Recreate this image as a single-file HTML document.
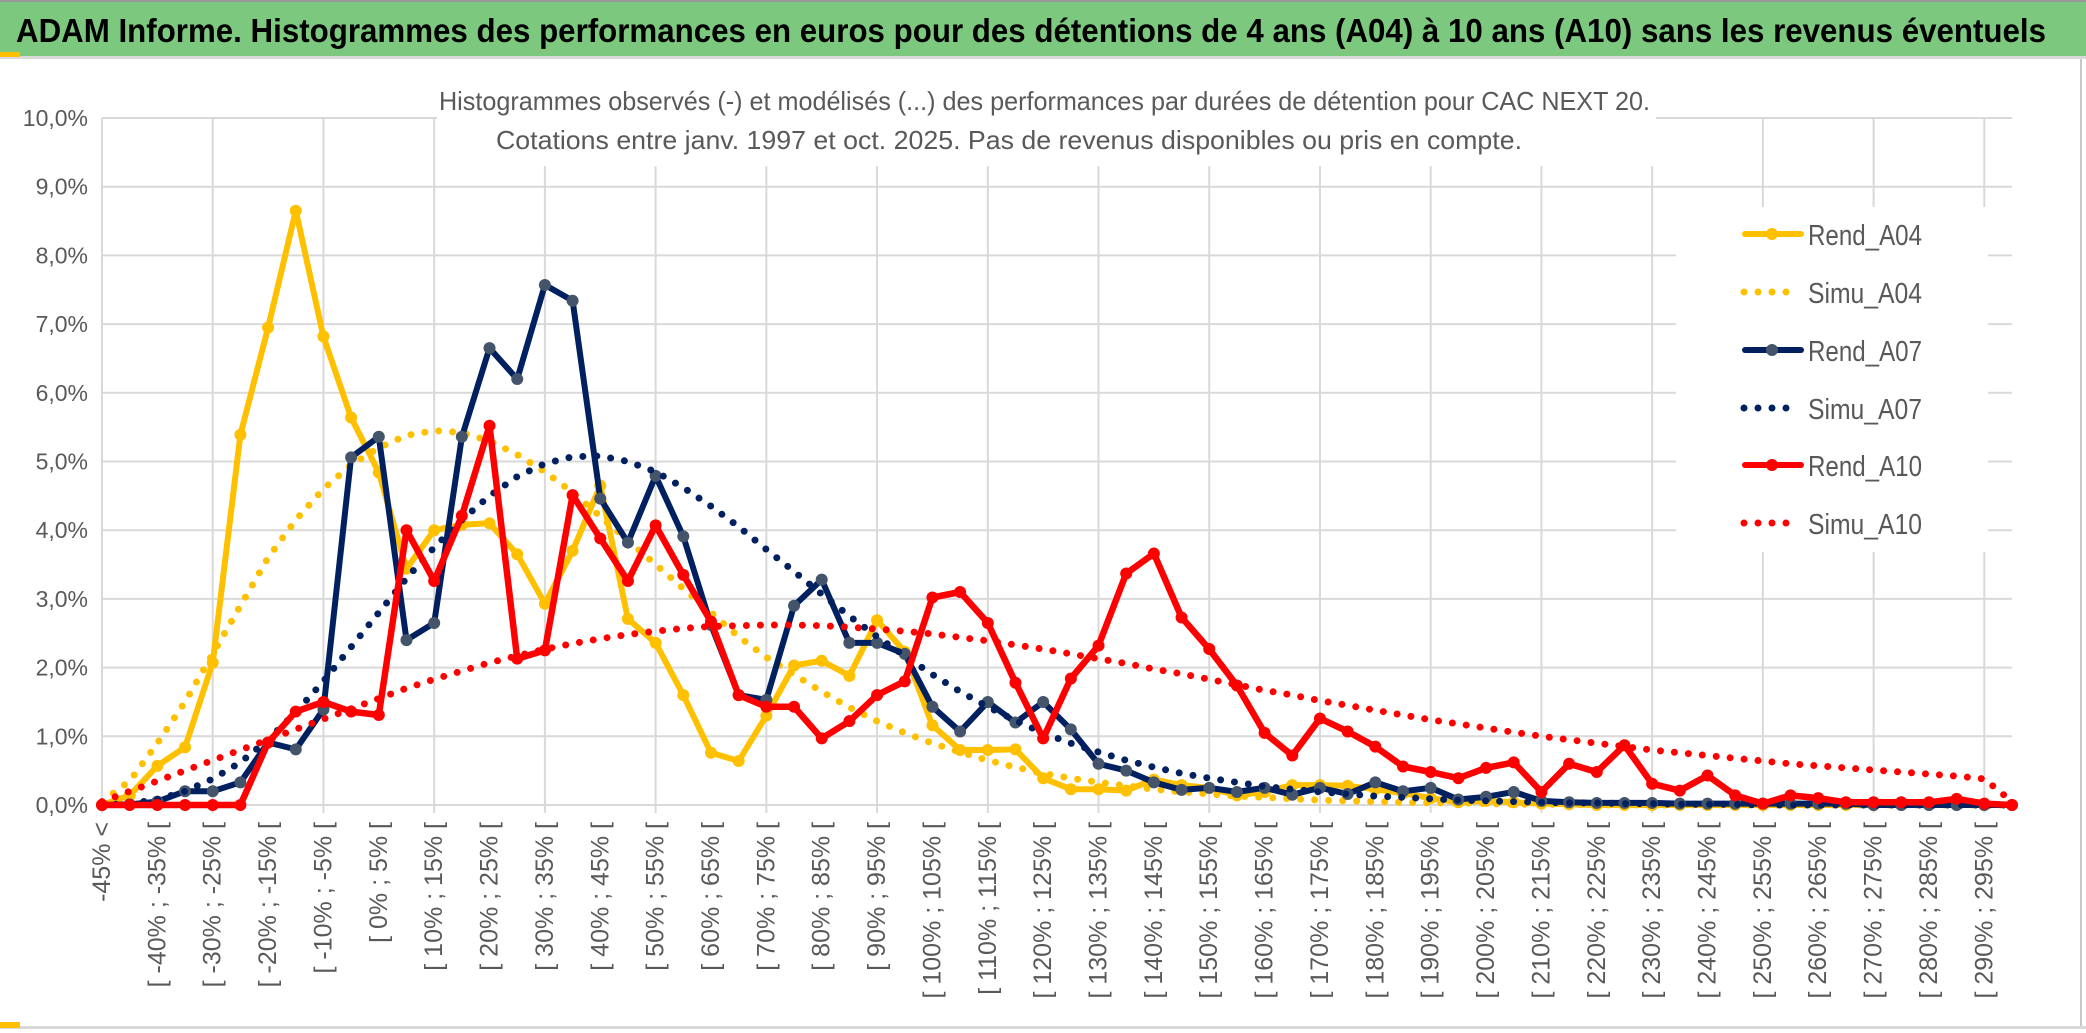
<!DOCTYPE html>
<html><head><meta charset="utf-8"><style>
html,body{margin:0;padding:0;background:#fff;}
svg{display:block;font-family:"Liberation Sans",sans-serif;}
</style></head><body>
<svg id="chart" width="2086" height="1033" viewBox="0 0 2086 1033" xmlns="http://www.w3.org/2000/svg">
<rect x="0" y="0" width="2086" height="1033" fill="#fff"/>
<rect x="0" y="0" width="2086" height="56" fill="#7dc87f"/>
<rect x="0" y="0" width="2086" height="2" fill="#999"/>
<rect x="0" y="56" width="2086" height="3" fill="#d9d9d9"/>
<rect x="0" y="52" width="20" height="5" fill="#ffc000"/>
<text x="16" y="42" font-size="33" font-weight="bold" fill="#000" textLength="2030" lengthAdjust="spacingAndGlyphs">ADAM Informe. Histogrammes des performances en euros pour des détentions de 4 ans (A04) à 10 ans (A10) sans les revenus éventuels</text>
<rect x="2080" y="59" width="2" height="968" fill="#c8c8c8"/>
<rect x="0" y="1026" width="2086" height="3" fill="#d9d9d9"/>
<rect x="0" y="1022" width="20" height="6" fill="#ffc000"/>
<g id="grid"></g>
<rect x="437" y="62" width="1219" height="104" fill="#fff"/>
<text x="439" y="110" font-size="26" fill="#595959" textLength="1211" lengthAdjust="spacingAndGlyphs">Histogrammes observés (-) et modélisés (...) des performances par durées de détention pour CAC NEXT 20.</text>
<text x="496" y="149" font-size="26" fill="#595959" textLength="1026" lengthAdjust="spacingAndGlyphs">Cotations entre janv. 1997 et oct. 2025. Pas de revenus disponibles ou pris en compte.</text>
<rect x="1676" y="207" width="312" height="345" fill="#fff"/>
<g id="axes"></g>
<g id="series"></g>
<g id="legend"></g>
</svg>
<script>
const categories = ["-45% <"];
for (let k = -45; k < 300; k += 5) categories.push("[ " + k + "% ; " + (k + 5) + "% [");
const yTicks = [0,1,2,3,4,5,6,7,8,9,10];
const yTickLabels = ["0,0%","1,0%","2,0%","3,0%","4,0%","5,0%","6,0%","7,0%","8,0%","9,0%","10,0%"];
const rendA04 = [0,0.14,0.57,0.84,2.07,5.39,6.95,8.65,6.82,5.64,4.84,3.44,4.0,4.08,4.1,3.65,2.93,3.7,4.65,2.71,2.36,1.6,0.76,0.64,1.3,2.03,2.1,1.88,2.69,2.23,1.16,0.8,0.8,0.81,0.39,0.23,0.23,0.21,0.37,0.29,0.25,0.14,0.19,0.29,0.29,0.28,0.23,0.17,0.1,0.04,0.06,0.04,0.02,0.01,0,0,0,0,0,0,0,0,0,0,0,0,0,0,0,0];
const simuA04 = [0.05,0.35,0.9,1.5,2.2,2.9,3.6,4.15,4.6,4.95,5.2,5.38,5.45,5.42,5.3,5.1,4.85,4.55,4.2,3.85,3.5,3.15,2.8,2.45,2.15,1.9,1.65,1.42,1.22,1.05,0.9,0.77,0.65,0.55,0.46,0.39,0.33,0.28,0.23,0.19,0.16,0.13,0.11,0.09,0.07,0.06,0.05,0.04,0.03,0.03,0.02,0.01,0.01,0.01,0,0,0,0,0,0,0,0,0,0,0,0,0,0,0,0];
const rendA07 = [0,0.01,0.05,0.2,0.2,0.33,0.91,0.81,1.39,5.06,5.36,2.4,2.65,5.36,6.65,6.2,7.57,7.34,4.46,3.82,4.79,3.91,2.62,1.6,1.53,2.9,3.28,2.36,2.36,2.2,1.43,1.07,1.5,1.2,1.5,1.1,0.6,0.5,0.33,0.22,0.25,0.19,0.25,0.15,0.25,0.16,0.33,0.2,0.25,0.08,0.12,0.19,0.06,0.04,0.03,0.03,0.03,0.02,0.02,0.02,0.02,0.02,0.02,0.02,0,0,0,0,0,0];
const simuA07 = [0,0.02,0.08,0.2,0.38,0.62,0.95,1.35,1.8,2.3,2.8,3.3,3.75,4.15,4.5,4.78,4.97,5.07,5.08,5.0,4.85,4.62,4.35,4.05,3.72,3.4,3.07,2.75,2.45,2.17,1.9,1.65,1.43,1.23,1.05,0.9,0.77,0.65,0.55,0.46,0.39,0.33,0.27,0.23,0.19,0.16,0.13,0.11,0.09,0.07,0.06,0.05,0.04,0.03,0.03,0.02,0.02,0.01,0.01,0.01,0,0,0,0,0,0,0,0,0,0];
const rendA10 = [0,0,0,0,0,0,0.91,1.36,1.5,1.36,1.31,4.0,3.26,4.21,5.52,2.13,2.25,4.51,3.88,3.26,4.07,3.35,2.67,1.6,1.43,1.43,0.97,1.22,1.6,1.8,3.02,3.1,2.65,1.78,0.97,1.84,2.32,3.37,3.66,2.73,2.27,1.74,1.05,0.72,1.26,1.07,0.85,0.56,0.48,0.39,0.54,0.62,0.19,0.6,0.48,0.87,0.31,0.21,0.43,0.14,0.02,0.14,0.1,0.04,0.04,0.04,0.04,0.09,0.02,0];
const simuA10 = [0.05,0.2,0.35,0.5,0.65,0.8,0.95,1.1,1.25,1.4,1.55,1.7,1.83,1.95,2.07,2.17,2.27,2.35,2.42,2.48,2.53,2.57,2.6,2.61,2.62,2.62,2.61,2.59,2.56,2.53,2.49,2.44,2.39,2.33,2.27,2.2,2.13,2.06,1.98,1.91,1.83,1.75,1.67,1.6,1.52,1.45,1.38,1.31,1.24,1.18,1.12,1.06,1.0,0.95,0.9,0.85,0.8,0.76,0.72,0.68,0.64,0.6,0.57,0.54,0.51,0.48,0.45,0.42,0.38,0.05];

const NS = "http://www.w3.org/2000/svg";
const X0 = 102, X1 = 2012, Y0 = 805, Y10 = 118;
const n = categories.length;
function xs(i){ return X0 + i * (X1 - X0) / (n - 1); }
function ys(v){ return Y0 - v * (Y0 - Y10) / 10; }
function mk(tag, attrs, parent){ const e = document.createElementNS(NS, tag); for (const k in attrs) e.setAttribute(k, attrs[k]); parent.appendChild(e); return e; }

const grid = document.getElementById("grid");
yTicks.forEach(function(t, k){
  const l = mk("line", {x1: X0, x2: X1, y1: ys(t), y2: ys(t), stroke: "#d9d9d9", "stroke-width": 2}, grid);
  
  
});
for (let i = 0; i < n; i += 4) {
  const l = mk("line", {x1: xs(i), x2: xs(i), y1: Y10, y2: Y0 + 8, stroke: "#d9d9d9", "stroke-width": 2}, grid);
  
  
}
const axes = document.getElementById("axes");
yTicks.forEach(function(t, k){
  const tx = mk("text", {x: 88, y: ys(t) + 8, "text-anchor": "end", "font-size": 23, fill: "#595959"}, axes);
  tx.textContent = yTickLabels[k];
  
  
});
for (let i = 0; i < n; i += 2) {
  const x = xs(i) + 8, y = 822;
  const tx = mk("text", {x: x, y: y, "text-anchor": "end", "font-size": 25, fill: "#595959", transform: "rotate(-90 " + x + " " + y + ")"}, axes);
  tx.textContent = categories[i];
  
  
}

const seriesG = document.getElementById("series");
function pts(arr){ return arr.map(function(v, i){ return xs(i).toFixed(1) + "," + ys(v).toFixed(1); }).join(" "); }
function rend(arr, color, mcolor, width, name){
  const g = mk("g", {}, seriesG);
  
  
  mk("polyline", {points: pts(arr), fill: "none", stroke: color, "stroke-width": width, "stroke-linejoin": "round", "stroke-linecap": "round"}, g);
  arr.forEach(function(v, i){
    const c = mk("circle", {cx: xs(i), cy: ys(v), r: 6, fill: mcolor}, g);
    
    
  });
}
function simu(arr, color, name){
  const p = mk("polyline", {points: pts(arr), fill: "none", stroke: color, "stroke-width": 7, "stroke-linecap": "round", "stroke-dasharray": "0 14"}, seriesG);
  
  
}
rend(rendA04, "#ffc000", "#ffc000", 6, "rend-a04-line");
simu(simuA04, "#ffc000", "simu-a04-line");
rend(rendA07, "#002060", "#44546a", 6, "rend-a07-line");
simu(simuA07, "#002060", "simu-a07-line");
rend(rendA10, "#ff0000", "#ff0000", 6.5, "rend-a10-line");
simu(simuA10, "#ff0000", "simu-a10-line");

const legend = document.getElementById("legend");
const legItems = [["Rend_A04","#ffc000","#ffc000",false],["Simu_A04","#ffc000","",true],["Rend_A07","#002060","#44546a",false],["Simu_A07","#002060","",true],["Rend_A10","#ff0000","#ff0000",false],["Simu_A10","#ff0000","",true]];
const legY = [234, 292, 350, 408, 465, 523];
legItems.forEach(function(it, k){
  const y = legY[k];
  const g = mk("g", {}, legend);
  
  
  if (it[3]) {
    mk("line", {x1: 1744, x2: 1800, y1: y, y2: y, stroke: it[1], "stroke-width": 7, "stroke-linecap": "round", "stroke-dasharray": "0 14"}, g);
  } else {
    mk("line", {x1: 1745, x2: 1801, y1: y, y2: y, stroke: it[1], "stroke-width": 6, "stroke-linecap": "round"}, g);
    mk("circle", {cx: 1772, cy: y, r: 6, fill: it[2]}, g);
  }
  const t = mk("text", {x: 1808, y: y + 11, "font-size": 29, fill: "#595959", textLength: 114, lengthAdjust: "spacingAndGlyphs"}, g);
  t.textContent = it[0];
});
</script>
</body></html>
